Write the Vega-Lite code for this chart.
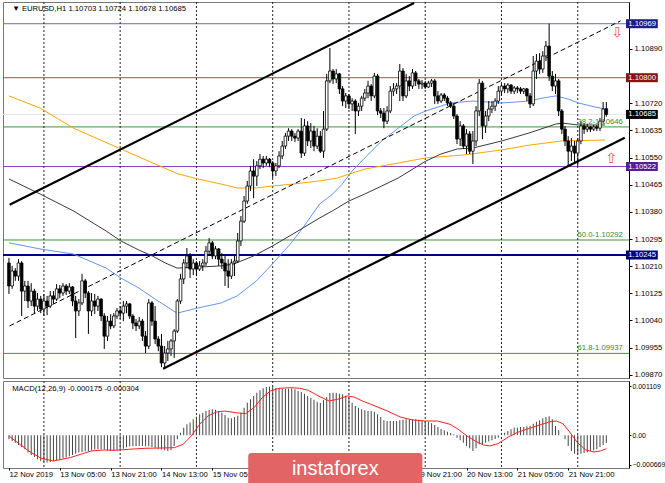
{
"$schema":"https://vega.github.io/schema/vega-lite/v6.json",
"padding":{"left":1,"top":1,"right":0,"bottom":0},
"background":"white",
"spacing":3,
"bounds":"flush",
"config":{"view":{"stroke":"#777","strokeWidth":1},"font":"Liberation Sans","axis":{"labelFont":"Liberation Sans","labelFontSize":7.7,"labelColor":"black","tickColor":"black","domainColor":"black","grid":false},"text":{"font":"Liberation Sans"}},
"datasets":{
"candles":[
{"i":0,"o":1.10220,"h":1.10236,"l":1.10123,"c":1.10148,"m":-0.000090},
{"i":1,"o":1.10148,"h":1.10211,"l":1.10139,"c":1.10195,"m":-0.000128},
{"i":2,"o":1.10195,"h":1.10204,"l":1.10164,"c":1.10179,"m":-0.000166},
{"i":3,"o":1.10179,"h":1.10232,"l":1.10164,"c":1.10220,"m":-0.000219},
{"i":4,"o":1.10220,"h":1.10226,"l":1.10054,"c":1.10132,"m":-0.000264},
{"i":5,"o":1.10132,"h":1.10164,"l":1.10101,"c":1.10148,"m":-0.000317},
{"i":6,"o":1.10148,"h":1.10164,"l":1.10079,"c":1.10101,"m":-0.000392},
{"i":7,"o":1.10101,"h":1.10157,"l":1.10085,"c":1.10132,"m":-0.000445},
{"i":8,"o":1.10132,"h":1.10139,"l":1.10063,"c":1.10085,"m":-0.000490},
{"i":9,"o":1.10085,"h":1.10126,"l":1.10070,"c":1.10107,"m":-0.000543},
{"i":10,"o":1.10107,"h":1.10117,"l":1.10063,"c":1.10076,"m":-0.000581},
{"i":11,"o":1.10076,"h":1.10123,"l":1.10054,"c":1.10101,"m":-0.000603},
{"i":12,"o":1.10101,"h":1.10117,"l":1.10057,"c":1.10085,"m":-0.000618},
{"i":13,"o":1.10085,"h":1.10132,"l":1.10079,"c":1.10117,"m":-0.000603},
{"i":14,"o":1.10117,"h":1.10132,"l":1.10092,"c":1.10107,"m":-0.000581},
{"i":15,"o":1.10107,"h":1.10154,"l":1.10101,"c":1.10139,"m":-0.000566},
{"i":16,"o":1.10139,"h":1.10151,"l":1.10110,"c":1.10126,"m":-0.000550},
{"i":17,"o":1.10126,"h":1.10157,"l":1.10117,"c":1.10148,"m":-0.000520},
{"i":18,"o":1.10148,"h":1.10154,"l":1.10120,"c":1.10132,"m":-0.000505},
{"i":19,"o":1.10132,"h":1.10157,"l":1.10123,"c":1.10145,"m":-0.000475},
{"i":20,"o":1.10145,"h":1.10148,"l":1.10085,"c":1.10101,"m":-0.000445},
{"i":21,"o":1.10101,"h":1.10117,"l":1.09985,"c":1.10070,"m":-0.000415},
{"i":22,"o":1.10070,"h":1.10107,"l":1.10054,"c":1.10095,"m":-0.000392},
{"i":23,"o":1.10095,"h":1.10186,"l":1.10088,"c":1.10164,"m":-0.000377},
{"i":24,"o":1.10164,"h":1.10170,"l":1.10110,"c":1.10126,"m":-0.000362},
{"i":25,"o":1.10126,"h":1.10132,"l":1.09998,"c":1.10070,"m":-0.000354},
{"i":26,"o":1.10070,"h":1.10126,"l":1.10054,"c":1.10101,"m":-0.000339},
{"i":27,"o":1.10101,"h":1.10123,"l":1.10060,"c":1.10085,"m":-0.000324},
{"i":28,"o":1.10085,"h":1.10117,"l":1.10070,"c":1.10107,"m":-0.000317},
{"i":29,"o":1.10107,"h":1.10110,"l":1.10038,"c":1.10054,"m":-0.000317},
{"i":30,"o":1.10054,"h":1.10063,"l":1.09951,"c":1.09991,"m":-0.000324},
{"i":31,"o":1.09991,"h":1.10054,"l":1.09976,"c":1.10038,"m":-0.000339},
{"i":32,"o":1.10038,"h":1.10060,"l":1.10013,"c":1.10023,"m":-0.000354},
{"i":33,"o":1.10023,"h":1.10063,"l":1.10016,"c":1.10054,"m":-0.000354},
{"i":34,"o":1.10054,"h":1.10079,"l":1.10045,"c":1.10070,"m":-0.000339},
{"i":35,"o":1.10070,"h":1.10085,"l":1.10045,"c":1.10063,"m":-0.000332},
{"i":36,"o":1.10063,"h":1.10101,"l":1.10038,"c":1.10085,"m":-0.000302},
{"i":37,"o":1.10085,"h":1.10101,"l":1.10063,"c":1.10092,"m":-0.000271},
{"i":38,"o":1.10092,"h":1.10095,"l":1.10045,"c":1.10054,"m":-0.000256},
{"i":39,"o":1.10054,"h":1.10060,"l":1.10013,"c":1.10032,"m":-0.000249},
{"i":40,"o":1.10032,"h":1.10045,"l":1.10007,"c":1.10023,"m":-0.000241},
{"i":41,"o":1.10023,"h":1.10051,"l":1.10013,"c":1.10038,"m":-0.000234},
{"i":42,"o":1.10038,"h":1.10045,"l":1.09976,"c":1.09991,"m":-0.000241},
{"i":43,"o":1.09991,"h":1.10007,"l":1.09938,"c":1.09960,"m":-0.000249},
{"i":44,"o":1.09960,"h":1.10107,"l":1.09951,"c":1.10095,"m":-0.000249},
{"i":45,"o":1.10095,"h":1.10101,"l":1.10023,"c":1.10038,"m":-0.000264},
{"i":46,"o":1.10038,"h":1.10085,"l":1.09966,"c":1.09982,"m":-0.000279},
{"i":47,"o":1.09982,"h":1.09991,"l":1.09944,"c":1.09960,"m":-0.000302},
{"i":48,"o":1.09960,"h":1.09998,"l":1.09894,"c":1.09907,"m":-0.000324},
{"i":49,"o":1.09907,"h":1.09960,"l":1.09888,"c":1.09938,"m":-0.000339},
{"i":50,"o":1.09938,"h":1.09976,"l":1.09913,"c":1.09951,"m":-0.000354},
{"i":51,"o":1.09951,"h":1.09982,"l":1.09929,"c":1.09976,"m":-0.000339},
{"i":52,"o":1.09976,"h":1.10013,"l":1.09923,"c":1.10007,"m":-0.000241},
{"i":53,"o":1.10007,"h":1.10107,"l":1.10001,"c":1.10101,"m":-0.000090},
{"i":54,"o":1.10101,"h":1.10186,"l":1.10092,"c":1.10170,"m":0.000060},
{"i":55,"o":1.10170,"h":1.10232,"l":1.10154,"c":1.10220,"m":0.000173},
{"i":56,"o":1.10220,"h":1.10267,"l":1.10204,"c":1.10242,"m":0.000249},
{"i":57,"o":1.10242,"h":1.10251,"l":1.10173,"c":1.10201,"m":0.000287},
{"i":58,"o":1.10201,"h":1.10232,"l":1.10182,"c":1.10220,"m":0.000362},
{"i":59,"o":1.10220,"h":1.10226,"l":1.10179,"c":1.10201,"m":0.000422},
{"i":60,"o":1.10201,"h":1.10226,"l":1.10195,"c":1.10211,"m":0.000475},
{"i":61,"o":1.10211,"h":1.10232,"l":1.10195,"c":1.10220,"m":0.000513},
{"i":62,"o":1.10220,"h":1.10273,"l":1.10211,"c":1.10257,"m":0.000550},
{"i":63,"o":1.10257,"h":1.10298,"l":1.10242,"c":1.10283,"m":0.000573},
{"i":64,"o":1.10283,"h":1.10289,"l":1.10232,"c":1.10242,"m":0.000588},
{"i":65,"o":1.10242,"h":1.10273,"l":1.10232,"c":1.10264,"m":0.000581},
{"i":66,"o":1.10264,"h":1.10267,"l":1.10211,"c":1.10232,"m":0.000550},
{"i":67,"o":1.10232,"h":1.10251,"l":1.10201,"c":1.10220,"m":0.000513},
{"i":68,"o":1.10220,"h":1.10242,"l":1.10148,"c":1.10195,"m":0.000460},
{"i":69,"o":1.10195,"h":1.10232,"l":1.10142,"c":1.10179,"m":0.000400},
{"i":70,"o":1.10179,"h":1.10232,"l":1.10170,"c":1.10220,"m":0.000385},
{"i":71,"o":1.10220,"h":1.10242,"l":1.10179,"c":1.10226,"m":0.000415},
{"i":72,"o":1.10226,"h":1.10314,"l":1.10220,"c":1.10289,"m":0.000445},
{"i":73,"o":1.10289,"h":1.10367,"l":1.10273,"c":1.10351,"m":0.000513},
{"i":74,"o":1.10351,"h":1.10430,"l":1.10345,"c":1.10414,"m":0.000626},
{"i":75,"o":1.10414,"h":1.10477,"l":1.10405,"c":1.10461,"m":0.000739},
{"i":76,"o":1.10461,"h":1.10524,"l":1.10445,"c":1.10508,"m":0.000814},
{"i":77,"o":1.10508,"h":1.10545,"l":1.10423,"c":1.10492,"m":0.000890},
{"i":78,"o":1.10492,"h":1.10539,"l":1.10461,"c":1.10524,"m":0.000965},
{"i":79,"o":1.10524,"h":1.10561,"l":1.10514,"c":1.10545,"m":0.001018},
{"i":80,"o":1.10545,"h":1.10555,"l":1.10517,"c":1.10533,"m":0.001063},
{"i":81,"o":1.10533,"h":1.10555,"l":1.10524,"c":1.10545,"m":0.001093},
{"i":82,"o":1.10545,"h":1.10549,"l":1.10520,"c":1.10533,"m":0.001101},
{"i":83,"o":1.10533,"h":1.10539,"l":1.10486,"c":1.10508,"m":0.001093},
{"i":84,"o":1.10508,"h":1.10533,"l":1.10492,"c":1.10524,"m":0.001078},
{"i":85,"o":1.10524,"h":1.10570,"l":1.10517,"c":1.10555,"m":0.001063},
{"i":86,"o":1.10555,"h":1.10602,"l":1.10545,"c":1.10586,"m":0.001048},
{"i":87,"o":1.10586,"h":1.10627,"l":1.10577,"c":1.10617,"m":0.001048},
{"i":88,"o":1.10617,"h":1.10642,"l":1.10602,"c":1.10633,"m":0.001056},
{"i":89,"o":1.10633,"h":1.10639,"l":1.10602,"c":1.10617,"m":0.001063},
{"i":90,"o":1.10617,"h":1.10627,"l":1.10599,"c":1.10611,"m":0.001041},
{"i":91,"o":1.10611,"h":1.10639,"l":1.10602,"c":1.10633,"m":0.001003},
{"i":92,"o":1.10633,"h":1.10674,"l":1.10549,"c":1.10564,"m":0.000980},
{"i":93,"o":1.10564,"h":1.10671,"l":1.10555,"c":1.10649,"m":0.000943},
{"i":94,"o":1.10649,"h":1.10664,"l":1.10586,"c":1.10602,"m":0.000890},
{"i":95,"o":1.10602,"h":1.10658,"l":1.10580,"c":1.10633,"m":0.000852},
{"i":96,"o":1.10633,"h":1.10649,"l":1.10570,"c":1.10586,"m":0.000807},
{"i":97,"o":1.10586,"h":1.10642,"l":1.10577,"c":1.10617,"m":0.000762},
{"i":98,"o":1.10617,"h":1.10633,"l":1.10564,"c":1.10570,"m":0.000731},
{"i":99,"o":1.10570,"h":1.10696,"l":1.10549,"c":1.10639,"m":0.000792},
{"i":100,"o":1.10639,"h":1.10812,"l":1.10633,"c":1.10790,"m":0.000867},
{"i":101,"o":1.10790,"h":1.10893,"l":1.10783,"c":1.10821,"m":0.000958},
{"i":102,"o":1.10821,"h":1.10827,"l":1.10780,"c":1.10796,"m":0.000965},
{"i":103,"o":1.10796,"h":1.10827,"l":1.10783,"c":1.10812,"m":0.000958},
{"i":104,"o":1.10812,"h":1.10815,"l":1.10749,"c":1.10765,"m":0.000943},
{"i":105,"o":1.10765,"h":1.10774,"l":1.10711,"c":1.10727,"m":0.000927},
{"i":106,"o":1.10727,"h":1.10752,"l":1.10705,"c":1.10743,"m":0.000897},
{"i":107,"o":1.10743,"h":1.10749,"l":1.10702,"c":1.10718,"m":0.000852},
{"i":108,"o":1.10718,"h":1.10736,"l":1.10696,"c":1.10727,"m":0.000739},
{"i":109,"o":1.10727,"h":1.10733,"l":1.10624,"c":1.10696,"m":0.000664},
{"i":110,"o":1.10696,"h":1.10721,"l":1.10680,"c":1.10711,"m":0.000626},
{"i":111,"o":1.10711,"h":1.10743,"l":1.10696,"c":1.10736,"m":0.000588},
{"i":112,"o":1.10736,"h":1.10765,"l":1.10727,"c":1.10752,"m":0.000566},
{"i":113,"o":1.10752,"h":1.10790,"l":1.10736,"c":1.10774,"m":0.000550},
{"i":114,"o":1.10774,"h":1.10780,"l":1.10727,"c":1.10743,"m":0.000550},
{"i":115,"o":1.10743,"h":1.10815,"l":1.10736,"c":1.10805,"m":0.000535},
{"i":116,"o":1.10805,"h":1.10812,"l":1.10683,"c":1.10696,"m":0.000475},
{"i":117,"o":1.10696,"h":1.10705,"l":1.10674,"c":1.10689,"m":0.000415},
{"i":118,"o":1.10689,"h":1.10705,"l":1.10642,"c":1.10664,"m":0.000339},
{"i":119,"o":1.10664,"h":1.10711,"l":1.10655,"c":1.10696,"m":0.000324},
{"i":120,"o":1.10696,"h":1.10774,"l":1.10689,"c":1.10758,"m":0.000324},
{"i":121,"o":1.10758,"h":1.10783,"l":1.10743,"c":1.10765,"m":0.000324},
{"i":122,"o":1.10765,"h":1.10783,"l":1.10749,"c":1.10774,"m":0.000324},
{"i":123,"o":1.10774,"h":1.10843,"l":1.10727,"c":1.10821,"m":0.000339},
{"i":124,"o":1.10821,"h":1.10830,"l":1.10727,"c":1.10743,"m":0.000354},
{"i":125,"o":1.10743,"h":1.10812,"l":1.10736,"c":1.10790,"m":0.000362},
{"i":126,"o":1.10790,"h":1.10805,"l":1.10758,"c":1.10774,"m":0.000362},
{"i":127,"o":1.10774,"h":1.10827,"l":1.10765,"c":1.10815,"m":0.000362},
{"i":128,"o":1.10815,"h":1.10821,"l":1.10774,"c":1.10790,"m":0.000362},
{"i":129,"o":1.10790,"h":1.10796,"l":1.10765,"c":1.10780,"m":0.000354},
{"i":130,"o":1.10780,"h":1.10793,"l":1.10765,"c":1.10783,"m":0.000339},
{"i":131,"o":1.10783,"h":1.10790,"l":1.10765,"c":1.10771,"m":0.000324},
{"i":132,"o":1.10771,"h":1.10790,"l":1.10768,"c":1.10783,"m":0.000309},
{"i":133,"o":1.10783,"h":1.10796,"l":1.10771,"c":1.10790,"m":0.000271},
{"i":134,"o":1.10790,"h":1.10796,"l":1.10718,"c":1.10743,"m":0.000234},
{"i":135,"o":1.10743,"h":1.10758,"l":1.10718,"c":1.10727,"m":0.000189},
{"i":136,"o":1.10727,"h":1.10752,"l":1.10721,"c":1.10746,"m":0.000143},
{"i":137,"o":1.10746,"h":1.10752,"l":1.10727,"c":1.10736,"m":0.000113},
{"i":138,"o":1.10736,"h":1.10743,"l":1.10711,"c":1.10721,"m":0.000083},
{"i":139,"o":1.10721,"h":1.10727,"l":1.10705,"c":1.10711,"m":0.000053},
{"i":140,"o":1.10711,"h":1.10721,"l":1.10671,"c":1.10680,"m":0.000023},
{"i":141,"o":1.10680,"h":1.10686,"l":1.10592,"c":1.10608,"m":-0.000053},
{"i":142,"o":1.10608,"h":1.10664,"l":1.10586,"c":1.10649,"m":-0.000113},
{"i":143,"o":1.10649,"h":1.10655,"l":1.10577,"c":1.10586,"m":-0.000166},
{"i":144,"o":1.10586,"h":1.10639,"l":1.10561,"c":1.10624,"m":-0.000241},
{"i":145,"o":1.10624,"h":1.10633,"l":1.10561,"c":1.10570,"m":-0.000294},
{"i":146,"o":1.10570,"h":1.10633,"l":1.10530,"c":1.10602,"m":-0.000354},
{"i":147,"o":1.10602,"h":1.10711,"l":1.10586,"c":1.10696,"m":-0.000294},
{"i":148,"o":1.10696,"h":1.10796,"l":1.10680,"c":1.10783,"m":-0.000204},
{"i":149,"o":1.10783,"h":1.10790,"l":1.10608,"c":1.10649,"m":-0.000204},
{"i":150,"o":1.10649,"h":1.10696,"l":1.10627,"c":1.10680,"m":-0.000166},
{"i":151,"o":1.10680,"h":1.10727,"l":1.10664,"c":1.10702,"m":-0.000143},
{"i":152,"o":1.10702,"h":1.10727,"l":1.10689,"c":1.10711,"m":-0.000113},
{"i":153,"o":1.10711,"h":1.10736,"l":1.10696,"c":1.10727,"m":-0.000083},
{"i":154,"o":1.10727,"h":1.10774,"l":1.10718,"c":1.10758,"m":-0.000053},
{"i":155,"o":1.10758,"h":1.10780,"l":1.10743,"c":1.10774,"m":0.000000},
{"i":156,"o":1.10774,"h":1.10783,"l":1.10752,"c":1.10765,"m":0.000060},
{"i":157,"o":1.10765,"h":1.10783,"l":1.10752,"c":1.10777,"m":0.000098},
{"i":158,"o":1.10777,"h":1.10780,"l":1.10749,"c":1.10758,"m":0.000136},
{"i":159,"o":1.10758,"h":1.10774,"l":1.10749,"c":1.10768,"m":0.000173},
{"i":160,"o":1.10768,"h":1.10774,"l":1.10752,"c":1.10765,"m":0.000173},
{"i":161,"o":1.10765,"h":1.10771,"l":1.10749,"c":1.10758,"m":0.000189},
{"i":162,"o":1.10758,"h":1.10768,"l":1.10749,"c":1.10765,"m":0.000189},
{"i":163,"o":1.10765,"h":1.10768,"l":1.10727,"c":1.10743,"m":0.000204},
{"i":164,"o":1.10743,"h":1.10752,"l":1.10705,"c":1.10718,"m":0.000219},
{"i":165,"o":1.10718,"h":1.10868,"l":1.10711,"c":1.10821,"m":0.000264},
{"i":166,"o":1.10821,"h":1.10874,"l":1.10796,"c":1.10852,"m":0.000309},
{"i":167,"o":1.10852,"h":1.10877,"l":1.10812,"c":1.10827,"m":0.000339},
{"i":168,"o":1.10827,"h":1.10883,"l":1.10815,"c":1.10868,"m":0.000385},
{"i":169,"o":1.10868,"h":1.10915,"l":1.10852,"c":1.10899,"m":0.000415},
{"i":170,"o":1.10899,"h":1.10969,"l":1.10790,"c":1.10805,"m":0.000430},
{"i":171,"o":1.10805,"h":1.10821,"l":1.10758,"c":1.10774,"m":0.000362},
{"i":172,"o":1.10774,"h":1.10812,"l":1.10749,"c":1.10790,"m":0.000211},
{"i":173,"o":1.10790,"h":1.10796,"l":1.10680,"c":1.10696,"m":0.000113},
{"i":174,"o":1.10696,"h":1.10702,"l":1.10624,"c":1.10639,"m":0.000008},
{"i":175,"o":1.10639,"h":1.10649,"l":1.10586,"c":1.10602,"m":-0.000090},
{"i":176,"o":1.10602,"h":1.10617,"l":1.10522,"c":1.10570,"m":-0.000241},
{"i":177,"o":1.10570,"h":1.10611,"l":1.10539,"c":1.10586,"m":-0.000354},
{"i":178,"o":1.10586,"h":1.10602,"l":1.10530,"c":1.10564,"m":-0.000415},
{"i":179,"o":1.10564,"h":1.10611,"l":1.10524,"c":1.10602,"m":-0.000430},
{"i":180,"o":1.10602,"h":1.10664,"l":1.10592,"c":1.10649,"m":-0.000415},
{"i":181,"o":1.10649,"h":1.10658,"l":1.10624,"c":1.10639,"m":-0.000400},
{"i":182,"o":1.10639,"h":1.10655,"l":1.10630,"c":1.10646,"m":-0.000385},
{"i":183,"o":1.10646,"h":1.10649,"l":1.10630,"c":1.10639,"m":-0.000354},
{"i":184,"o":1.10639,"h":1.10652,"l":1.10633,"c":1.10646,"m":-0.000339},
{"i":185,"o":1.10646,"h":1.10652,"l":1.10633,"c":1.10642,"m":-0.000317},
{"i":186,"o":1.10642,"h":1.10674,"l":1.10633,"c":1.10664,"m":-0.000264},
{"i":187,"o":1.10664,"h":1.10724,"l":1.10658,"c":1.10702,"m":-0.000219},
{"i":188,"o":1.10703,"h":1.10724,"l":1.10678,"c":1.10685,"m":-0.000175}
],
"signal":[{"i":0,"s":-0.000015},{"i":6.2,"s":-0.000354},{"i":10.1,"s":-0.00052},{"i":14,"s":-0.000581},{"i":19.3,"s":-0.000505},{"i":23.2,"s":-0.000415},{"i":25.9,"s":-0.000354},{"i":29.8,"s":-0.000332},{"i":33.7,"s":-0.000339},{"i":37.7,"s":-0.000317},{"i":42.9,"s":-0.000294},{"i":48.2,"s":-0.000287},{"i":52.1,"s":-0.000279},{"i":54.8,"s":-0.000204},{"i":57.4,"s":-0.000015},{"i":60,"s":0.000249},{"i":62.6,"s":0.000437},{"i":65.3,"s":0.000528},{"i":67.9,"s":0.00055},{"i":71.2,"s":0.000513},{"i":74.5,"s":0.00049},{"i":77.1,"s":0.000626},{"i":79.7,"s":0.000852},{"i":82.3,"s":0.001003},{"i":85,"s":0.001063},{"i":88.9,"s":0.001078},{"i":91.5,"s":0.001063},{"i":94.2,"s":0.001018},{"i":97.4,"s":0.00089},{"i":100.7,"s":0.000777},{"i":103.4,"s":0.000814},{"i":106.6,"s":0.00089},{"i":108.6,"s":0.000867},{"i":111.2,"s":0.000777},{"i":115.2,"s":0.000664},{"i":119.1,"s":0.00055},{"i":123.1,"s":0.000415},{"i":127,"s":0.000347},{"i":130.9,"s":0.000324},{"i":134.9,"s":0.000324},{"i":138.8,"s":0.000249},{"i":141.4,"s":0.000136},{"i":144.1,"s":-0.000015},{"i":146.7,"s":-0.000128},{"i":149.3,"s":-0.000219},{"i":151.3,"s":-0.000241},{"i":153.9,"s":-0.000189},{"i":157.2,"s":-0.000038},{"i":159.8,"s":0.00006},{"i":163.8,"s":0.000158},{"i":167.7,"s":0.000249},{"i":170.3,"s":0.000309},{"i":172.3,"s":0.000324},{"i":174.3,"s":0.000264},{"i":176.2,"s":0.000098},{"i":178.9,"s":-0.000166},{"i":181.5,"s":-0.000332},{"i":184.1,"s":-0.000377},{"i":186.1,"s":-0.000354},{"i":188,"s":-0.000304}],
"mas":[
{"ma":"MA200","i":0,"p":1.10743},{"ma":"MA200","i":9.8,"p":1.10705},{"ma":"MA200","i":20.3,"p":1.10642},{"ma":"MA200","i":35.2,"p":1.10577},{"ma":"MA200","i":46,"p":1.1053},{"ma":"MA200","i":53.2,"p":1.10499},{"ma":"MA200","i":59.4,"p":1.10483},{"ma":"MA200","i":66.8,"p":1.10467},{"ma":"MA200","i":71.8,"p":1.10455},{"ma":"MA200","i":77.9,"p":1.10455},{"ma":"MA200","i":82.9,"p":1.10461},{"ma":"MA200","i":89.4,"p":1.10467},{"ma":"MA200","i":97.8,"p":1.10477},{"ma":"MA200","i":103.3,"p":1.10486},{"ma":"MA200","i":112,"p":1.10514},{"ma":"MA200","i":122.5,"p":1.10533},{"ma":"MA200","i":131.2,"p":1.10549},{"ma":"MA200","i":143,"p":1.10558},{"ma":"MA200","i":155.1,"p":1.10574},{"ma":"MA200","i":163.7,"p":1.10589},{"ma":"MA200","i":174,"p":1.10602},{"ma":"MA200","i":187.6,"p":1.10605},
{"ma":"MA50","i":0,"p":1.10283},{"ma":"MA50","i":9.8,"p":1.10264},{"ma":"MA50","i":20.3,"p":1.10248},{"ma":"MA50","i":30.6,"p":1.10204},{"ma":"MA50","i":35.2,"p":1.10173},{"ma":"MA50","i":40.8,"p":1.10142},{"ma":"MA50","i":46,"p":1.10107},{"ma":"MA50","i":52.9,"p":1.10063},{"ma":"MA50","i":59.4,"p":1.10079},{"ma":"MA50","i":66.8,"p":1.10095},{"ma":"MA50","i":71.8,"p":1.10117},{"ma":"MA50","i":77.9,"p":1.10164},{"ma":"MA50","i":82.9,"p":1.10217},{"ma":"MA50","i":88.5,"p":1.10279},{"ma":"MA50","i":92.5,"p":1.1033},{"ma":"MA50","i":97.8,"p":1.10405},{"ma":"MA50","i":101.8,"p":1.10435},{"ma":"MA50","i":104.9,"p":1.10467},{"ma":"MA50","i":108,"p":1.10508},{"ma":"MA50","i":112,"p":1.10549},{"ma":"MA50","i":117.3,"p":1.10602},{"ma":"MA50","i":122.5,"p":1.10642},{"ma":"MA50","i":127.5,"p":1.1068},{"ma":"MA50","i":131.2,"p":1.10696},{"ma":"MA50","i":135.9,"p":1.10711},{"ma":"MA50","i":139,"p":1.10721},{"ma":"MA50","i":146.1,"p":1.10727},{"ma":"MA50","i":155.1,"p":1.10721},{"ma":"MA50","i":159.7,"p":1.10724},{"ma":"MA50","i":163.7,"p":1.10727},{"ma":"MA50","i":167.8,"p":1.10736},{"ma":"MA50","i":172.1,"p":1.10743},{"ma":"MA50","i":176.1,"p":1.10733},{"ma":"MA50","i":179.2,"p":1.10721},{"ma":"MA50","i":184.5,"p":1.10708},{"ma":"MA50","i":187.6,"p":1.10702},
{"ma":"MA100","i":0,"p":1.10483},{"ma":"MA100","i":9.8,"p":1.10436},{"ma":"MA100","i":20.3,"p":1.10383},{"ma":"MA100","i":30.6,"p":1.1032},{"ma":"MA100","i":35.2,"p":1.10289},{"ma":"MA100","i":40.8,"p":1.10261},{"ma":"MA100","i":45.1,"p":1.10242},{"ma":"MA100","i":49.2,"p":1.1022},{"ma":"MA100","i":52.9,"p":1.10204},{"ma":"MA100","i":59.4,"p":1.10207},{"ma":"MA100","i":66.8,"p":1.10211},{"ma":"MA100","i":70.8,"p":1.10217},{"ma":"MA100","i":77,"p":1.10242},{"ma":"MA100","i":82.9,"p":1.10273},{"ma":"MA100","i":89.4,"p":1.10311},{"ma":"MA100","i":97.8,"p":1.10361},{"ma":"MA100","i":101.8,"p":1.10383},{"ma":"MA100","i":107,"p":1.10414},{"ma":"MA100","i":112,"p":1.10436},{"ma":"MA100","i":117.3,"p":1.10461},{"ma":"MA100","i":122.5,"p":1.10486},{"ma":"MA100","i":131.2,"p":1.10539},{"ma":"MA100","i":135.9,"p":1.10561},{"ma":"MA100","i":141.1,"p":1.10577},{"ma":"MA100","i":146.1,"p":1.1058},{"ma":"MA100","i":155.1,"p":1.10602},{"ma":"MA100","i":163.7,"p":1.10627},{"ma":"MA100","i":172.1,"p":1.10655},{"ma":"MA100","i":174,"p":1.10658},{"ma":"MA100","i":179.2,"p":1.10652},{"ma":"MA100","i":187.6,"p":1.10652}
],
"trends":[{"line":"upper","i":0.2,"p":1.10402},{"line":"upper","i":127.5,"p":1.11034},{"line":"lower","i":48.5,"p":1.09889},{"line":"lower","i":193.8,"p":1.10612},{"line":"mid","i":0.2,"p":1.10023},{"line":"mid","i":192.5,"p":1.10978}],
"hlines":[{"name":"bid","p":1.10685},{"name":"l1","p":1.10969},{"name":"l2","p":1.108},{"name":"fib","p":1.10646},{"name":"l4","p":1.10522},{"name":"fib","p":1.10292},{"name":"fib","p":1.09937},{"name":"l5","p":1.10245}],
"tags":[{"name":"t1","p":1.10969,"label":"1.10969"},{"name":"t2","p":1.108,"label":"1.10800"},{"name":"t3","p":1.10685,"label":"1.10685"},{"name":"t4","p":1.10522,"label":"1.10522"},{"name":"t5","p":1.10245,"label":"1.10245"}],
"fibs":[{"p":1.10646,"label":"38.2-1.10646"},{"p":1.10292,"label":"50.0-1.10292"},{"p":1.09937,"label":"61.8-1.09937"}],
"grid":[{"i":11},{"i":35},{"i":59},{"i":83},{"i":107},{"i":131},{"i":155},{"i":179}],
"arrows":[{"i":191.4,"p":1.10941,"g":"⇩"},{"i":189.5,"p":1.10547,"g":"⇧"}]
},
"vconcat":[
{
"width":626,"height":376,
"resolve":{"axis":{"x":"independent","y":"independent"}},
"layer":[
{"data":{"name":"hlines"},"transform":[{"filter":"datum.name != 'l5'"}],"mark":{"type":"rule","strokeWidth":1},
 "encoding":{"y":{"field":"p","type":"quantitative","scale":{"domain":[1.0986,1.11037],"zero":false,"nice":false},"axis":null},
 "color":{"field":"name","type":"nominal","legend":null,"scale":{"domain":["bid","l1","l2","fib","l4","l5","t1","t2","t3","t4","t5"],"range":["#E4E4EE","#6A6ACD","#B04A4A","#3C963C","#8A3FC0","#00008C","#1C1C8C","#8B1010","#000000","#581C94","#00007A"]}}}},
{"data":{"name":"hlines"},"transform":[{"filter":"datum.name == 'l5'"}],"mark":{"type":"rule","strokeWidth":2,"color":"#00008C"},
 "encoding":{"y":{"field":"p","type":"quantitative","axis":null}}},
{"data":{"name":"grid"},"mark":{"type":"rule","strokeDash":[2,2],"strokeWidth":1,"color":"#222"},
 "encoding":{"x":{"field":"i","type":"quantitative","scale":{"domain":[-0.3,193.56],"zero":false,"nice":false},"axis":null}}},
{"data":{"name":"mas"},"mark":{"type":"line","strokeWidth":1},
 "encoding":{"x":{"field":"i","type":"quantitative","axis":null},"y":{"field":"p","type":"quantitative","axis":null},
 "stroke":{"field":"ma","type":"nominal","legend":null,"scale":{"domain":["MA200","MA50","MA100"],"range":["#FFA500","#6495ED","#3A3A3A"]}}}},
{"data":{"name":"trends"},"transform":[{"filter":"datum.line != 'mid'"}],"mark":{"type":"line","strokeWidth":2.2,"color":"black","clip":true},
 "encoding":{"x":{"field":"i","type":"quantitative","axis":null},"y":{"field":"p","type":"quantitative","axis":null},"detail":{"field":"line"}}},
{"data":{"name":"trends"},"transform":[{"filter":"datum.line == 'mid'"}],"mark":{"type":"line","strokeWidth":1,"color":"black","strokeDash":[5,3],"clip":true},
 "encoding":{"x":{"field":"i","type":"quantitative","axis":null},"y":{"field":"p","type":"quantitative","axis":null}}},
{"data":{"name":"candles"},"mark":{"type":"rule","strokeWidth":1,"color":"black"},
 "encoding":{"x":{"field":"i","type":"quantitative","axis":null},
 "y":{"field":"l","type":"quantitative","axis":{"orient":"right","values":[1.0987,1.09955,1.1004,1.10125,1.1021,1.10295,1.1038,1.10465,1.1055,1.10635,1.1072,1.1089],"format":".5f","tickSize":3,"labelPadding":2,"domain":true,"title":null}},
 "y2":{"field":"h"}}},
{"data":{"name":"candles"},"mark":{"type":"bar","size":2.6,"stroke":"black","strokeWidth":0.8},
 "encoding":{"x":{"field":"i","type":"quantitative","axis":null},"y":{"field":"o","type":"quantitative","axis":null},"y2":{"field":"c"},
 "fill":{"condition":{"test":"datum.c >= datum.o","value":"white"},"value":"black"}}},
{"data":{"name":"fibs"},"mark":{"type":"text","align":"right","baseline":"bottom","dy":-1,"fontSize":7.7,"color":"#2E8B2E"},
 "encoding":{"x":{"datum":193.2,"type":"quantitative","axis":null},"y":{"field":"p","type":"quantitative","axis":null},"text":{"field":"label"}}},
{"data":{"name":"arrows"},"mark":{"type":"text","align":"center","baseline":"middle","fontSize":14,"font":"DejaVu Sans","color":"#FF4D4D"},
 "encoding":{"x":{"field":"i","type":"quantitative","axis":null},"y":{"field":"p","type":"quantitative","axis":null},"text":{"field":"g"}}},
{"data":{"name":"tags"},"mark":{"type":"rule","strokeWidth":9,"strokeCap":"butt"},
 "encoding":{"x":{"datum":194.2,"type":"quantitative","axis":null},"x2":{"datum":204.2},"y":{"field":"p","type":"quantitative","axis":null},
 "color":{"field":"name","type":"nominal","legend":null,"scale":{"domain":["bid","l1","l2","fib","l4","l5","t1","t2","t3","t4","t5"],"range":["#E4E4EE","#6A6ACD","#B04A4A","#3C963C","#8A3FC0","#00008C","#1C1C8C","#8B1010","#000000","#581C94","#00007A"]}}}},
{"data":{"name":"tags"},"mark":{"type":"text","align":"left","baseline":"middle","fontSize":7.7,"color":"white"},
 "encoding":{"x":{"datum":194.9,"type":"quantitative","axis":null},"y":{"field":"p","type":"quantitative","axis":null},"text":{"field":"label"}}},
{"data":{"values":[{"t":"▼ EURUSD,H1  1.10703 1.10724 1.10678 1.10685"}]},"mark":{"type":"text","align":"left","baseline":"middle","fontSize":7.7,"color":"black"},
 "encoding":{"x":{"datum":1,"type":"quantitative","axis":null},"y":{"datum":1.11014,"type":"quantitative","axis":null},"text":{"field":"t"}}}
]
},
{
"width":626,"height":87,
"resolve":{"axis":{"x":"independent","y":"independent"}},
"layer":[
{"data":{"name":"grid"},"mark":{"type":"rule","strokeDash":[2,2],"strokeWidth":1,"color":"#222"},
 "encoding":{"x":{"field":"i","type":"quantitative","scale":{"domain":[-0.3,193.56],"zero":false,"nice":false},"axis":null}}},
{"data":{"name":"candles"},"mark":{"type":"bar","size":1,"color":"#454545"},
 "encoding":{"x":{"field":"i","type":"quantitative","axis":{"orient":"bottom","values":[0,16,32,48,64,128,144,160,176],"labelExpr":"['12 Nov 2019','13 Nov 05:00','13 Nov 21:00','14 Nov 13:00','15 Nov 05:00','15 Nov 21:00','18 Nov 13:00','19 Nov 05:00','19 Nov 21:00','20 Nov 13:00','21 Nov 05:00','21 Nov 21:00'][round(datum.value/16)]","labelAlign":"left","tickSize":2,"labelPadding":0,"domain":false,"labelOverlap":false,"labelFlush":false,"labelBound":false,"title":null}},
 "y":{"field":"m","type":"quantitative","scale":{"domain":[-0.00074,0.001229],"zero":false,"nice":false},"axis":{"orient":"right","values":[-0.000669,0,0.001109],"labelExpr":"datum.value == 0 ? '0.00' : format(datum.value, '.6f')","tickSize":2,"labelPadding":1,"labelFontSize":6.9,"domain":true,"title":null}},
 "y2":{"datum":0}}},
{"data":{"name":"signal"},"mark":{"type":"line","strokeWidth":1,"color":"#FF2020"},
 "encoding":{"x":{"field":"i","type":"quantitative","axis":null},"y":{"field":"s","type":"quantitative","axis":null}}},
{"data":{"values":[{"t":"MACD(12,26,9) -0.000175 -0.000304"}]},"mark":{"type":"text","align":"left","baseline":"middle","fontSize":7.7,"color":"black"},
 "encoding":{"x":{"datum":1,"type":"quantitative","axis":null},"y":{"datum":0.00105,"type":"quantitative","axis":null},"text":{"field":"t"}}},
{"data":{"values":[{"t":"instaforex"}]},"mark":{"type":"rect","color":"#E26464","cornerRadius":3},
 "encoding":{"x":{"datum":75.3,"type":"quantitative","axis":null},"x2":{"datum":130.1},"y":{"datum":-0.0004,"type":"quantitative","axis":null},"y2":{"datum":-0.00115}}},
{"data":{"values":[{"t":"instaforex"}]},"mark":{"type":"text","align":"center","baseline":"middle","fontSize":20,"color":"white"},
 "encoding":{"x":{"datum":102.7,"type":"quantitative","axis":null},"y":{"datum":-0.000762,"type":"quantitative","axis":null},"text":{"field":"t"}}}
]
}
]
}
